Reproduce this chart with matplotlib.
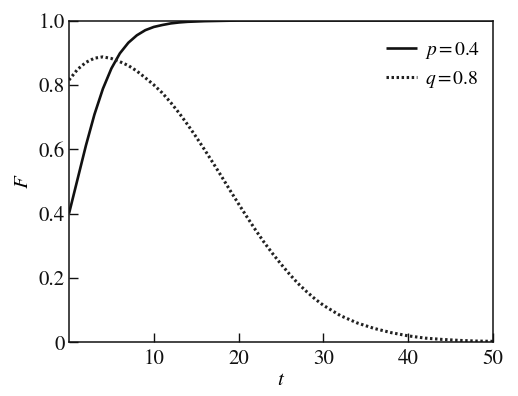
import matplotlib
matplotlib.use("Agg")
import matplotlib.pyplot as plt

plt.rcParams['font.family'] = ['STIXGeneral', 'DejaVu Serif']
plt.rcParams['mathtext.fontset'] = 'stix'

# p = 0.4 curve (solid)
t_p = [0, 1, 2, 3, 4, 5, 6, 7, 8, 9, 10, 11, 12, 13, 14, 16, 18, 20, 25, 30, 35, 40, 45, 50]
F_p = [0.400, 0.506, 0.612, 0.708, 0.788, 0.851, 0.898, 0.931, 0.954, 0.970, 0.980,
       0.986, 0.991, 0.994, 0.996, 0.998, 0.999, 1.0, 1.0, 1.0, 1.0, 1.0, 1.0, 1.0]

# q = 0.8 curve (dotted)
t_q = [0, 1, 2, 3, 4, 5, 6, 7, 8, 9, 10, 11, 12, 13, 14, 15, 16, 17, 18, 19, 20,
       21, 22, 23, 24, 25, 26, 27, 28, 29, 30, 32, 34, 36, 38, 40, 42, 44, 46, 48, 50]
F_q = [0.815, 0.848, 0.870, 0.883, 0.887, 0.882, 0.872, 0.860, 0.843, 0.822, 0.800,
       0.775, 0.745, 0.712, 0.676, 0.638, 0.598, 0.557, 0.515, 0.472, 0.430,
       0.389, 0.349, 0.311, 0.276, 0.243, 0.212, 0.183, 0.158, 0.135, 0.115,
       0.083, 0.060, 0.043, 0.030, 0.020, 0.013, 0.009, 0.006, 0.004, 0.003]

labels = [r'$p\,$=$\,$0.4', r'$q\,$=$\,$0.8']
x_ticks = [10, 20, 30, 40, 50]
y_ticks = [0, 0.2, 0.4, 0.6, 0.8, 1.0]
y_tick_labels = ['0', '0.2', '0.4', '0.6', '0.8', '1.0']

fig = plt.figure(figsize=(5.18, 3.96), dpi=100)
ax = fig.add_axes([0.1332, 0.1356, 0.8185, 0.8126])

ax.plot(t_p, F_p, color='#111111', lw=1.9, solid_capstyle='butt', label=labels[0])
ax.plot(t_q, F_q, color='#222222', lw=2.2, linestyle=(0, (0.8, 0.85)),
        dash_capstyle='butt', label=labels[1])

ax.set_xlim(0, 50)
ax.set_ylim(0, 1.0)
ax.set_xticks(x_ticks)
ax.set_xticklabels([str(v) for v in x_ticks])
ax.set_yticks(y_ticks)
ax.set_yticklabels(y_tick_labels)
ax.tick_params(direction='in', length=6.5, width=1.0, labelsize=15,
               colors='#111111')
ax.tick_params(axis='x', pad=5)
ax.tick_params(axis='y', pad=3)
for s in ax.spines.values():
    s.set_linewidth(1.1)
    s.set_color('#111111')

ax.set_xlabel('$t$', fontsize=15, labelpad=1)
ax.set_ylabel('$F$', fontsize=15, labelpad=4)

leg = ax.legend(loc='upper right', frameon=False, fontsize=14,
                handlelength=1.6, handletextpad=0.4, labelspacing=0.45,
                bbox_to_anchor=(0.988, 0.965), borderaxespad=0.0)

fig.savefig('out.png', dpi=100)
